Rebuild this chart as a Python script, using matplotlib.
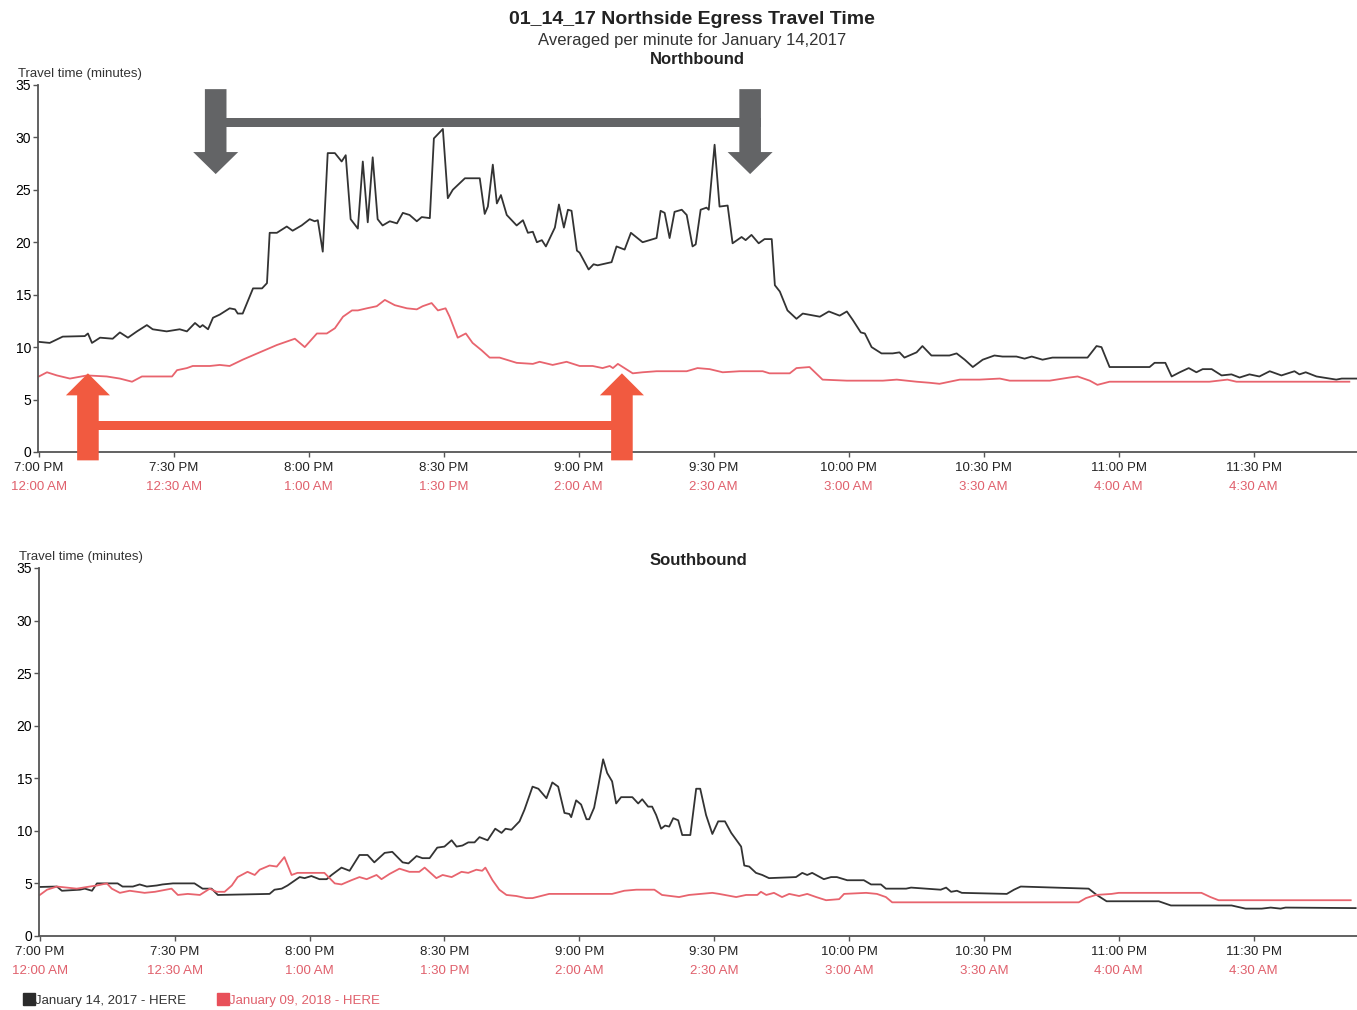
import matplotlib
matplotlib.use("Agg")
import matplotlib.pyplot as plt
from matplotlib.lines import Line2D

plt.rcParams["font.family"] = ["Liberation Sans", "DejaVu Sans"]

# minutes after 7:00 PM (2017) / 12:00 AM (2018)
NB_2017_MIN = [0, 2.4, 5.3, 10.2, 10.9, 11.8, 13.6, 16.4, 18, 19.8,
               21.8, 24, 25.3, 28.4, 31.3, 32.9, 34.7, 35.8, 36.4, 37.6,
               38.7, 40.2, 42.4, 43.6, 44.2, 45.3, 47.6, 49.6, 50.7, 51.3,
               52.9, 55.1, 56.4, 58.4, 60.2, 61.3, 62, 63.1, 64.2, 65.8,
               67.3, 68.2, 69.3, 70.9, 72, 73.1, 74.2, 75.3, 76.4, 78,
               79.6, 80.9, 82.4, 84, 85.1, 86.9, 87.8, 89.8, 90.9, 92,
               94.7, 98, 99.1, 99.8, 100.9, 101.8, 102.7, 104, 106.2, 107.6,
               108.7, 109.8, 110.7, 111.8, 112.7, 114.7, 115.6, 116.7, 117.6, 118.4,
               119.6, 120.2, 122.2, 123.3, 124.2, 127.3, 128.4, 130.2, 131.6, 134.2,
               137.3, 138.2, 139.1, 140.2, 141.3, 142.9, 144, 145.3, 146, 147.1,
               148.4, 148.9, 150.2, 151.3, 153.1, 154.2, 156.2, 157.1, 158.4, 160,
               161.3, 162.9, 163.6, 164.7, 166.4, 168.4, 169.8, 173.6, 175.6, 178,
               179.6, 180.9, 182.7, 183.6, 185.1, 187.3, 189.8, 191.3, 192.4, 195.1,
               196.4, 198.4, 202.4, 204, 205.8, 207.6, 209.8, 212.4, 214.2, 217.3,
               219.1, 220.7, 223.1, 225.3, 233.1, 235.1, 236.2, 238, 246.9, 248,
               250.4, 251.8, 253.6, 255.6, 257.3, 258.7, 260.7, 262.9, 265.1, 266.9,
               269.1, 271.3, 273.6, 276.2, 279.1, 280.2, 281.6, 284, 286.9, 288.4,
               289.6, 291.3, 292.9]
NB_2017_VAL = [10.5, 10.4, 11.0, 11.05, 11.3, 10.4, 10.9, 10.8, 11.4, 10.9,
               11.5, 12.1, 11.7, 11.5, 11.7, 11.5, 12.3, 11.9, 12.1, 11.7,
               12.8, 13.1, 13.7, 13.6, 13.2, 13.2, 15.6, 15.6, 16.1, 20.9,
               20.9, 21.5, 21.1, 21.6, 22.2, 22.0, 22.1, 19.1, 28.5, 28.5,
               27.7, 28.3, 22.2, 21.3, 27.7, 21.9, 28.1, 22.2, 21.6, 22.0,
               21.8, 22.8, 22.6, 22.0, 22.4, 22.3, 29.9, 30.8, 24.2, 25.0,
               26.1, 26.1, 22.7, 23.4, 27.4, 23.7, 24.5, 22.6, 21.6, 22.1,
               20.9, 21.0, 20.0, 20.2, 19.6, 21.4, 23.6, 21.4, 23.1, 23.0,
               19.2, 19.0, 17.4, 17.9, 17.8, 18.1, 19.6, 19.3, 20.9, 20.0,
               20.4, 23.0, 22.8, 20.4, 22.9, 23.1, 22.6, 19.6, 19.8, 23.1,
               23.3, 23.1, 29.3, 23.4, 23.5, 19.9, 20.5, 20.2, 20.7, 19.9,
               20.3, 20.3, 15.9, 15.3, 13.5, 12.7, 13.2, 12.9, 13.4, 13.0,
               13.4, 12.6, 11.4, 11.3, 10.0, 9.4, 9.4, 9.5, 9.0, 9.5,
               10.1, 9.2, 9.2, 9.4, 8.8, 8.1, 8.8, 9.2, 9.1, 9.1,
               8.9, 9.1, 8.8, 9.0, 9.0, 10.1, 10.0, 8.1, 8.1, 8.5,
               8.5, 7.2, 7.6, 8.0, 7.6, 7.9, 7.9, 7.3, 7.4, 7.1,
               7.4, 7.2, 7.7, 7.3, 7.7, 7.4, 7.6, 7.2, 7.0, 6.9,
               7.0, 7.0, 7.0]

NB_2018_MIN = [0, 1.8, 4, 6.9, 10.7, 15.1, 18, 20.7, 22.9, 29.6,
               30.7, 32.9, 34.2, 38, 40.2, 42.4, 45.3, 48, 52.9, 56.9,
               59.1, 61.8, 64, 65.8, 67.6, 69.6, 70.9, 72.9, 75.1, 76.9,
               79.1, 81.8, 84, 85.3, 87.3, 88.7, 90.4, 91.3, 93.1, 94.9,
               96.4, 98.4, 100.2, 102.4, 106.2, 109.8, 111.3, 114.2, 117.3, 120.2,
               123.1, 125.3, 126.9, 127.6, 128.7, 132, 134.2, 137.3, 140.9, 144,
               146.4, 149.1, 152, 155.8, 160.9, 162.4, 166.9, 168.4, 171.3, 174.2,
               179.6, 187.6, 190.7, 195.1, 198, 200.2, 204.7, 209.1, 213.6, 215.8,
               224.7, 229.1, 230.9, 233.6, 235.3, 238, 260.2, 264.2, 266.2, 291.3]
NB_2018_VAL = [7.2, 7.6, 7.3, 7.0, 7.3, 7.2, 7.0, 6.7, 7.2, 7.2,
               7.8, 8.0, 8.2, 8.2, 8.3, 8.2, 8.8, 9.3, 10.2, 10.8,
               10.0, 11.3, 11.3, 11.8, 12.9, 13.5, 13.5, 13.7, 13.9, 14.5,
               14.0, 13.7, 13.6, 13.9, 14.2, 13.5, 13.7, 12.9, 10.9, 11.3,
               10.4, 9.7, 9.0, 9.0, 8.5, 8.4, 8.6, 8.3, 8.6, 8.2,
               8.2, 8.0, 8.2, 8.0, 8.4, 7.5, 7.6, 7.7, 7.7, 7.7,
               8.0, 7.9, 7.6, 7.7, 7.7, 7.5, 7.5, 8.0, 8.1, 6.9,
               6.8, 6.8, 6.9, 6.7, 6.6, 6.5, 6.9, 6.9, 7.0, 6.8,
               6.8, 7.1, 7.2, 6.8, 6.4, 6.7, 6.7, 6.9, 6.7, 6.7]

SB_2017_MIN = [0, 3.8, 4.9, 8.9, 10, 11.6, 12.7, 17.3, 18.4, 20.7,
               22.2, 23.8, 26, 27.3, 29.6, 32.7, 34.4, 36.2, 38.2, 39.6,
               51.1, 52.2, 53.8, 55.1, 57.8, 58.9, 60.4, 62.2, 63.8, 64.9,
               67.1, 68.9, 71.1, 72.9, 74.4, 76.7, 78.4, 80.7, 82, 83.8,
               85.1, 86.7, 88.4, 90, 91.6, 92.7, 94, 95.3, 96.7, 97.8,
               99.6, 101.3, 102.7, 103.6, 104.9, 106.7, 107.8, 109.6, 110.9, 112.7,
               114, 115.3, 116.7, 117.8, 118.2, 119.3, 120.4, 121.6, 122.2, 123.3,
               124.2, 125.3, 126.2, 127.3, 128.2, 129.3, 131.8, 133.1, 134, 135.3,
               136.2, 137.1, 138.2, 139.1, 140, 140.9, 142, 142.9, 144.7, 146,
               146.9, 148.2, 149.6, 150.9, 152.4, 153.8, 156, 156.7, 157.8, 159.3,
               160.7, 162.2, 168.2, 169.6, 170.7, 171.8, 174.4, 176, 177.3, 179.6,
               183.3, 184.9, 187.1, 188.2, 191.1, 192.7, 193.8, 200.4, 201.6, 202.7,
               204, 205.1, 215.1, 216.7, 218.2, 233.3, 235.1, 237.3, 248.9, 251.6,
               265.1, 268.2, 271.8, 273.8, 276, 277.1, 292.7]
SB_2017_VAL = [4.66, 4.7, 4.3, 4.4, 4.5, 4.3, 5.0, 5.0, 4.7, 4.7,
               4.9, 4.7, 4.8, 4.9, 5.0, 5.0, 5.0, 4.5, 4.5, 3.9,
               4.0, 4.4, 4.5, 4.8, 5.6, 5.5, 5.7, 5.4, 5.4, 5.8,
               6.5, 6.2, 7.7, 7.7, 7.0, 7.9, 8.0, 7.0, 6.9, 7.6,
               7.4, 7.4, 8.4, 8.5, 9.1, 8.5, 8.6, 8.9, 8.9, 9.4,
               9.1, 10.2, 9.8, 10.2, 10.1, 10.9, 12.0, 14.2, 14.0, 13.1,
               14.6, 14.2, 11.7, 11.6, 11.3, 12.9, 12.5, 11.1, 11.1, 12.2,
               14.2, 16.8, 15.5, 14.7, 12.6, 13.2, 13.2, 12.6, 13.0, 12.3,
               12.3, 11.5, 10.2, 10.5, 10.4, 11.2, 11.0, 9.6, 9.6, 14.0,
               14.0, 11.5, 9.7, 10.9, 10.9, 9.8, 8.5, 6.7, 6.6, 6.0,
               5.8, 5.5, 5.6, 6.0, 5.8, 6.0, 5.4, 5.6, 5.6, 5.3,
               5.3, 4.9, 4.9, 4.5, 4.5, 4.5, 4.6, 4.4, 4.6, 4.2,
               4.3, 4.1, 4.0, 4.4, 4.7, 4.5, 3.9, 3.3, 3.3, 2.9,
               2.9, 2.6, 2.6, 2.7, 2.6, 2.7, 2.65]

SB_2018_MIN = [0, 1.6, 3.8, 6, 8.2, 11.1, 12.7, 14.9, 16, 17.8,
               20, 23.3, 25.6, 29.3, 30.7, 32.9, 35.6, 37.8, 39.3, 41.1,
               42.7, 44, 46.2, 47.8, 48.9, 51.1, 52.7, 54.4, 56, 57.3,
               63.3, 65.6, 67.1, 69.3, 71.1, 72.7, 74.9, 76, 77.8, 80,
               82.2, 84.4, 85.6, 88.2, 89.6, 91.6, 93.8, 95.3, 97.1, 98.4,
               99.1, 100.7, 102.2, 103.8, 106, 108.2, 109.6, 113.3, 127.3, 130,
               132.7, 136.7, 138.4, 142.2, 144.4, 149.6, 151.1, 154.9, 157.1, 159.6,
               160.4, 161.6, 163.3, 165.1, 166.7, 168.9, 170.7, 172.7, 174.9, 177.8,
               178.9, 183.8, 186.2, 188.2, 189.6, 231.1, 232.7, 234.9, 238.4, 240,
               258.4, 260.4, 262.2, 291.6]
SB_2018_VAL = [3.9, 4.4, 4.7, 4.6, 4.5, 4.7, 4.8, 5.0, 4.5, 4.1,
               4.3, 4.1, 4.2, 4.5, 3.9, 4.0, 3.9, 4.5, 4.2, 4.2,
               4.8, 5.6, 6.1, 5.8, 6.3, 6.7, 6.6, 7.5, 5.8, 6.0,
               6.0, 5.0, 4.9, 5.3, 5.6, 5.4, 5.8, 5.4, 5.9, 6.4,
               6.1, 6.1, 6.5, 5.5, 5.8, 5.6, 6.1, 6.0, 6.3, 6.2,
               6.5, 5.3, 4.4, 3.9, 3.8, 3.6, 3.6, 4.0, 4.0, 4.3,
               4.4, 4.4, 3.9, 3.7, 3.9, 4.1, 4.0, 3.7, 3.9, 3.9,
               4.2, 3.9, 4.1, 3.7, 4.0, 3.8, 4.0, 3.7, 3.4, 3.5,
               4.0, 4.1, 4.0, 3.7, 3.2, 3.2, 3.6, 3.9, 4.0, 4.1,
               4.1, 3.7, 3.4, 3.4]

TICK_MIN = [0, 30, 60, 90, 120, 150, 180, 210, 240, 270]
TICK_2017 = ["7:00 PM", "7:30 PM", "8:00 PM", "8:30 PM", "9:00 PM",
             "9:30 PM", "10:00 PM", "10:30 PM", "11:00 PM", "11:30 PM"]
TICK_2018 = ["12:00 AM", "12:30 AM", "1:00 AM", "1:30 PM", "2:00 AM",
             "2:30 AM", "3:00 AM", "3:30 AM", "4:00 AM", "4:30 AM"]

BLACK = "#333333"
RED = "#e8646e"
RED_TEXT = "#e0606c"
GRAY_ARROW = "#636466"
ORANGE_ARROW = "#f15a40"


def style_axis(ax, title, title_y):
    ax.set_xlim(-0.2, 293)
    ax.set_ylim(0, 35)
    ax.set_yticks(range(0, 36, 5))
    ax.set_xticks(TICK_MIN)
    ax.set_xticklabels(TICK_2017, color="#222222")
    for side in ("top", "right"):
        ax.spines[side].set_visible(False)
    for side in ("left", "bottom"):
        ax.spines[side].set_color("#555555")
        ax.spines[side].set_linewidth(1.3)
    ax.tick_params(axis="both", direction="out", length=3.5, width=1, color="#555555")
    ax.tick_params(axis="x", labelsize=9.5, pad=3.5)
    ax.tick_params(axis="y", labelsize=10, pad=1.5)
    for t, lab in zip(TICK_MIN, TICK_2018):
        ax.annotate(lab, xy=(t, 0), xycoords=("data", "axes fraction"),
                    xytext=(0, -25.2), textcoords="offset points",
                    ha="center", va="center", fontsize=9.5, color=RED_TEXT,
                    annotation_clip=False)
    ax.text(0.5, title_y, title, transform=ax.transAxes, ha="center", va="center",
            fontsize=12, fontweight="bold", color="#222222")
    ax.text(-0.015, 1.03, "Travel time (minutes)", transform=ax.transAxes,
            ha="left", va="center", fontsize=9.5, color="#333333")


def bracket_arrow(ax, x, y_stem, y_base, y_tip, half_w, half_head, color):
    xs = [x - half_w, x + half_w, x + half_w, x + half_head, x, x - half_head, x - half_w]
    ys = [y_stem, y_stem, y_base, y_base, y_tip, y_base, y_base]
    ax.fill(xs, ys, color=color, lw=0, clip_on=False, zorder=5)


fig = plt.figure(figsize=(13.57, 10.10), dpi=100)
ax_n = fig.add_axes([0.028, 0.5525, 0.972, 0.3634])
ax_s = fig.add_axes([0.0287, 0.0733, 0.9713, 0.3644])

ax_n.plot(NB_2017_MIN, NB_2017_VAL, color=BLACK, lw=1.3, clip_on=False)
ax_n.plot(NB_2018_MIN, NB_2018_VAL, color=RED, lw=1.3, clip_on=False)
ax_s.plot(SB_2017_MIN, SB_2017_VAL, color=BLACK, lw=1.3, clip_on=False)
ax_s.plot(SB_2018_MIN, SB_2018_VAL, color=RED, lw=1.3, clip_on=False)

style_axis(ax_n, "Northbound", 1.068)
style_axis(ax_s, "Southbound", 1.02)

# gray bracket (2017 peak window), pointing down
bracket_arrow(ax_n, 39.3, 34.6, 28.6, 26.5, 2.4, 5.0, GRAY_ARROW)
bracket_arrow(ax_n, 158.1, 34.6, 28.6, 26.5, 2.4, 5.0, GRAY_ARROW)
ax_n.fill([36.9, 160.5, 160.5, 36.9], [31.85, 31.85, 31.0, 31.0],
          color=GRAY_ARROW, lw=0, clip_on=False, zorder=5)

# orange bracket (2018 peak window), pointing up
bracket_arrow(ax_n, 10.9, -0.8, 5.4, 7.5, 2.4, 4.9, ORANGE_ARROW)
bracket_arrow(ax_n, 129.6, -0.8, 5.4, 7.5, 2.4, 4.9, ORANGE_ARROW)
ax_n.fill([10.9, 129.6, 129.6, 10.9], [2.95, 2.95, 2.1, 2.1],
          color=ORANGE_ARROW, lw=0, clip_on=False, zorder=5)

fig.text(0.51, 0.981, "01_14_17 Northside Egress Travel Time", ha="center", va="center",
         fontsize=14, fontweight="bold", color="#222222")
fig.text(0.51, 0.960, "Averaged per minute for January 14,2017", ha="center", va="center",
         fontsize=12, color="#333333")

handles = [Line2D([], [], marker="s", ls="", color="#2b2b2b", markersize=8),
           Line2D([], [], marker="s", ls="", color="#e8505a", markersize=8)]
fig.legend(handles, ["January 14, 2017 - HERE", "January 09, 2018 - HERE"],
           loc="center left", bbox_to_anchor=(0.014, 0.0095), ncol=2, frameon=False,
           fontsize=9.5, handlelength=0.7, handletextpad=0.15, columnspacing=2.4,
           borderaxespad=0, labelcolor=["#333333", RED_TEXT])

fig.savefig("out.png", dpi=100)
